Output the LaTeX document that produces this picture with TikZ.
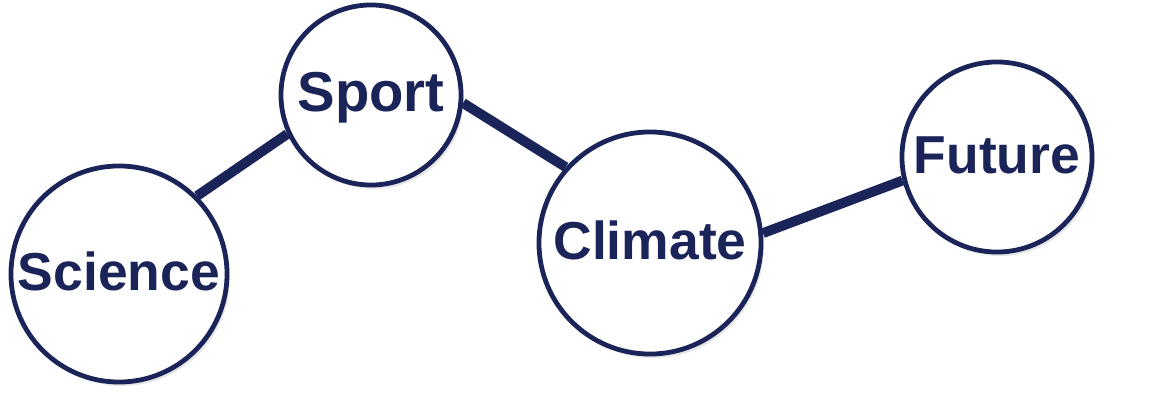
\documentclass[tikz,border=0pt]{standalone}
\usepackage{fontspec}
\setmainfont{Liberation Sans}
\usetikzlibrary{shadows,backgrounds}
\definecolor{topicnavy}{RGB}{27,36,89}

\begin{document}
\begin{tikzpicture}[x=0.025cm, y=-0.025cm,
    topic/.style={draw=topicnavy, line width=3.4pt, circle, fill=white, inner sep=0pt,
        text=topicnavy, font=\fontsize{38}{40}\bfseries\selectfont,
        text height=27pt, text depth=4pt,
        drop shadow={opacity=0.2, shadow xshift=0.07cm, shadow yshift=-0.1cm}},
    link/.style={draw=topicnavy, line width=7pt}]
    \useasboundingbox (0,0) rectangle (1156,400);

    \node[topic, minimum size=5.4cm] (sci) at (119,274) {Science};
    \node[topic, minimum size=4.5cm] (spt) at (371,95) {\fontsize{40}{42}\bfseries\selectfont Sport};
    \node[topic, minimum size=5.55cm] (clm) at (650,243) {Climate};
    \node[topic, minimum size=4.75cm] (fut) at (997,157) {Future};

    \begin{scope}[on background layer]
        \draw[link] (sci.45) -- (spt.205);
        \draw[link] (spt.-5) -- (clm.138);
        \draw[link] (clm.5) -- (fut.194);
    \end{scope}
\end{tikzpicture}
\end{document}
